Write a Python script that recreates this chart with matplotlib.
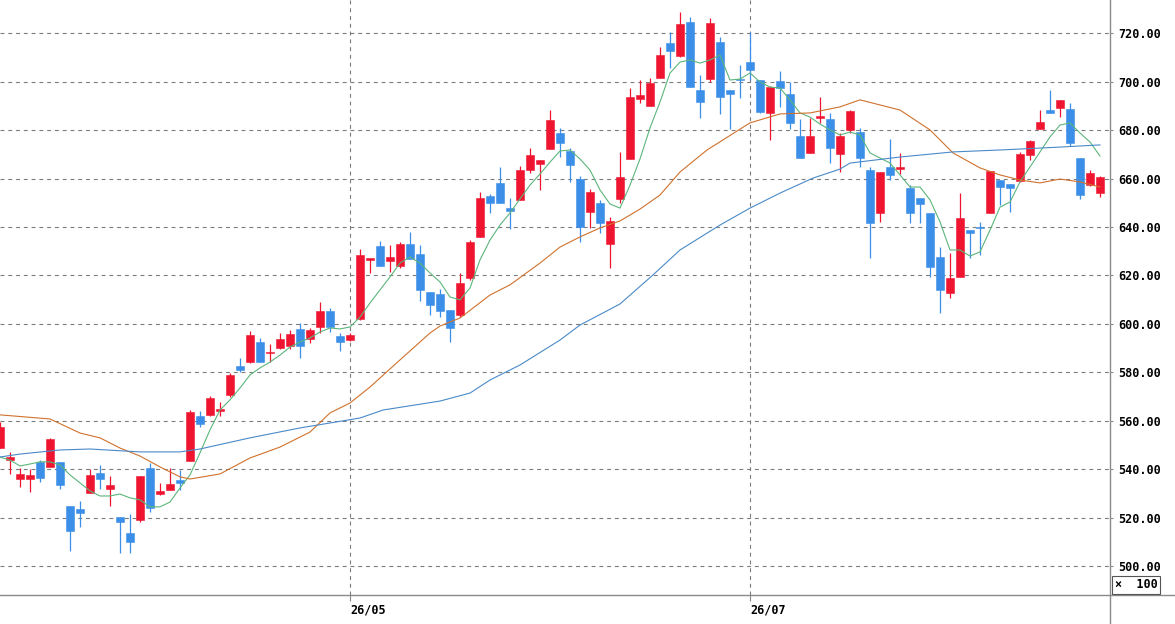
import matplotlib
matplotlib.use("Agg")
import matplotlib.pyplot as plt
from matplotlib.lines import Line2D

# daily candles (price) left to right
opens = [548.7, 543.8, 535.9, 535.9, 543.0, 540.9, 543.0, 524.8, 523.5, 530.1,
         538.4, 531.8, 520.2, 513.6, 519.0, 540.5, 529.7, 531.4, 535.5, 543.4,
         561.9, 562.4, 564.0, 570.6, 582.6, 584.2, 592.5, 588.0, 590.0, 590.8,
         597.9, 593.7, 598.7, 605.3, 595.0, 593.3, 602.0, 626.4, 632.2, 626.0,
         623.9, 633.0, 628.8, 613.2, 612.3, 605.7, 603.7, 618.9, 635.9, 652.8,
         658.2, 647.8, 651.2, 663.5, 666.0, 672.2, 678.8, 671.4, 659.8, 646.2,
         649.9, 633.0, 651.6, 668.1, 692.9, 690.0, 701.5, 716.0, 710.6, 724.7,
         696.6, 701.1, 716.4, 696.6, 701.1, 708.1, 700.7, 687.1, 700.3, 694.9,
         677.6, 670.6, 685.0, 684.6, 670.2, 680.1, 679.3, 663.5, 645.8, 664.8,
         664.0, 656.1, 652.0, 645.8, 627.6, 612.7, 619.4, 638.8, 640.0, 645.8,
         659.4, 657.8, 659.0, 669.7, 680.5, 688.3, 689.2, 688.7, 668.5, 657.3,
         654.0]
highs = [559.5, 547.1, 540.5, 540.1, 543.8, 552.8, 543.0, 524.8, 526.8, 540.1,
         541.7, 537.2, 520.2, 521.5, 537.2, 542.5, 534.3, 540.5, 539.6, 564.4,
         564.0, 570.2, 567.7, 579.7, 585.9, 597.0, 594.1, 591.7, 596.2, 597.5,
         600.4, 598.3, 609.0, 606.5, 596.2, 596.2, 630.9, 627.2, 634.2, 632.6,
         633.8, 637.9, 632.6, 613.2, 614.4, 605.7, 621.0, 634.6, 654.5, 653.6,
         664.8, 652.0, 665.2, 672.6, 667.7, 688.3, 680.9, 672.6, 661.1, 655.7,
         651.2, 644.1, 671.0, 697.4, 700.7, 701.5, 714.3, 720.5, 728.8, 726.7,
         702.8, 726.3, 718.5, 696.6, 706.9, 720.5, 700.7, 698.2, 704.4, 699.9,
         684.6, 685.0, 693.7, 687.1, 678.8, 688.3, 680.9, 664.8, 662.7, 676.3,
         670.6, 657.3, 652.0, 645.8, 631.7, 629.3, 654.0, 638.8, 642.1, 663.1,
         659.4, 657.8, 671.0, 675.9, 688.3, 696.6, 692.5, 691.2, 668.5, 663.5,
         661.1]
lows = [548.7, 538.0, 532.6, 530.6, 534.6, 540.9, 531.8, 506.2, 516.1, 530.1,
        531.8, 524.8, 505.4, 505.4, 518.2, 522.3, 529.3, 531.4, 531.4, 543.4,
        557.4, 561.9, 561.9, 569.8, 580.1, 583.8, 584.2, 584.2, 589.6, 589.6,
        585.9, 592.1, 596.2, 596.6, 588.8, 592.9, 601.6, 621.0, 623.9, 621.4,
        623.1, 626.8, 609.4, 603.7, 602.8, 592.5, 602.8, 618.1, 635.9, 645.8,
        649.9, 639.2, 651.2, 662.3, 655.3, 672.2, 668.9, 658.6, 633.8, 639.6,
        637.5, 623.1, 649.9, 668.1, 691.2, 690.0, 701.5, 705.7, 710.2, 697.8,
        685.0, 699.9, 686.7, 680.5, 693.3, 700.7, 687.1, 675.9, 689.6, 680.5,
        668.5, 670.6, 682.9, 666.4, 662.7, 678.8, 664.8, 627.2, 642.1, 659.4,
        661.9, 641.6, 641.6, 619.4, 604.5, 610.7, 619.4, 627.2, 628.4, 645.8,
        649.1, 646.2, 658.6, 667.7, 680.5, 687.1, 685.4, 673.5, 651.6, 656.9,
        652.4]
closes = [557.4, 545.0, 538.0, 537.6, 536.3, 552.4, 533.4, 514.4, 521.9, 537.6,
          535.9, 533.4, 518.2, 509.9, 537.2, 523.9, 531.0, 533.9, 534.3, 563.6,
          558.6, 569.4, 564.8, 578.9, 580.9, 595.4, 584.2, 588.4, 593.7, 595.8,
          590.8, 597.5, 605.3, 598.7, 592.5, 595.4, 628.4, 627.2, 623.9, 627.6,
          633.0, 626.8, 614.0, 607.8, 605.3, 598.3, 616.9, 633.8, 652.0, 649.9,
          649.9, 646.6, 663.5, 669.7, 667.7, 684.2, 674.7, 665.6, 640.0, 654.5,
          641.6, 642.5, 660.6, 693.7, 694.5, 699.5, 711.0, 712.7, 723.8, 697.8,
          691.6, 724.2, 693.7, 694.9, 700.7, 704.8, 687.5, 697.8, 697.4, 682.9,
          668.5, 677.6, 685.8, 672.6, 677.6, 687.9, 668.5, 641.6, 662.7, 661.5,
          664.8, 645.8, 649.5, 623.5, 614.0, 618.9, 643.7, 637.5, 639.6, 663.1,
          656.5, 656.1, 670.2, 675.5, 683.4, 687.1, 692.5, 674.7, 653.2, 662.3,
          660.6]

# moving averages as drawn (short / mid / long)
ma_short = [545.0, 543.7, 541.3, 542.1, 543.0, 543.0, 541.7, 537.6, 534.3, 531.0,
            528.9, 528.9, 529.7, 528.1, 527.3, 524.4, 524.4, 526.4, 532.2, 537.6,
            546.7, 556.2, 564.4, 568.6, 573.5, 578.9, 581.8, 584.2, 587.1, 590.4,
            592.5, 594.2, 596.6, 598.3, 597.9, 598.7, 602.8, 608.6, 614.0, 619.4,
            625.1, 627.6, 625.1, 621.0, 617.3, 611.1, 609.9, 614.8, 626.4, 634.6,
            640.8, 645.8, 651.6, 657.3, 661.9, 666.8, 671.4, 671.8, 668.1, 663.5,
            655.3, 649.5, 647.8, 657.3, 668.1, 680.9, 691.6, 703.6, 708.1, 709.0,
            707.7, 709.0, 711.0, 700.7, 701.1, 703.6, 699.9, 697.8, 697.4, 692.5,
            687.1, 685.4, 682.5, 680.1, 678.0, 679.2, 678.0, 670.6, 668.5, 666.4,
            661.5, 656.5, 656.5, 651.2, 642.1, 630.5, 630.5, 628.0, 629.7, 638.7,
            648.2, 650.3, 658.6, 664.8, 671.0, 677.2, 682.1, 683.0, 678.8, 675.1,
            669.3]
ma_mid_x = [0, 5, 8, 10, 12, 14, 16, 18, 19, 22, 25, 28, 31, 33, 35, 37, 40, 43, 44,
            46, 49, 51, 54, 56, 58, 60, 62, 64, 66, 68, 70.7, 75, 78, 81, 84, 86, 90,
            93, 95.3, 98, 100, 102, 104, 106, 108, 110]
ma_mid = [562.4, 560.7, 554.9, 552.9, 548.7, 545.4, 540.9, 536.8, 535.9, 538.0,
          544.6, 549.1, 555.3, 563.2, 567.3, 573.9, 585.1, 596.2, 599.1, 602.4,
          611.9, 616.1, 625.1, 631.7, 635.9, 639.6, 642.5, 647.4, 653.2, 662.7,
          671.8, 683.0, 686.7, 687.1, 689.6, 692.5, 688.3, 680.1, 670.6, 664.4,
          661.5, 659.4, 658.2, 659.8, 658.6, 656.5]
ma_long_x = [0, 2, 6, 9, 14, 18, 20, 25, 30, 36, 38.3, 44, 47, 49, 52, 56, 58, 62,
             65.3, 68, 72, 75, 78, 81.3, 84, 85, 90, 95.3, 100, 106, 110]
ma_long = [545.0, 546.2, 547.9, 548.3, 547.1, 547.1, 548.3, 552.9, 557.0, 561.1,
           564.4, 568.1, 571.4, 576.8, 583.0, 593.3, 599.5, 608.2, 620.2, 630.5,
           640.8, 647.8, 654.0, 660.2, 663.9, 666.4, 668.9, 671.0, 671.8, 673.0,
           673.9]

y_ticks = [500, 520, 540, 560, 580, 600, 620, 640, 660, 680, 700, 720]
x_ticks = [35, 75]
x_tick_labels = ["26/05", "26/07"]

UP_COLOR = "#ef1530"
DOWN_COLOR = "#3b8fe8"
AXIS_GRAY = "#8a8a8a"
LABEL_FONT = dict(family="DejaVu Sans Mono", weight="bold", size=8.5)

fig = plt.figure(figsize=(11.75, 6.24), dpi=100)
fig.patch.set_facecolor("white")
ax = fig.add_axes([0, 29 / 624, 1110 / 1175, 595 / 624])

# candles: wick first, body on top
for i in range(len(opens)):
    o, h, l, c = opens[i], highs[i], lows[i], closes[i]
    col = UP_COLOR if c >= o else DOWN_COLOR
    ax.vlines(i, l, h, color=col, lw=0.9, zorder=2)
    body = max(abs(c - o), 0.35)
    ax.bar(i, body, bottom=min(o, c), width=0.78, color=col, edgecolor=col,
           linewidth=0.4, zorder=3)

# moving averages
ax.plot(range(len(ma_short)), ma_short, color="#5cb57a", lw=0.8, zorder=4)
ax.plot(ma_mid_x, ma_mid, color="#d0712c", lw=0.8, zorder=4)
ax.plot(ma_long_x, ma_long, color="#4a8ac8", lw=0.8, zorder=4)

ax.set_xlim(0, 111)
ax.set_ylim(488.0, 733.75)

for s in ax.spines.values():
    s.set_visible(False)

ax.yaxis.tick_right()
ax.set_yticks(y_ticks)
ax.set_yticklabels([f"{v:.2f}" for v in y_ticks], fontdict=LABEL_FONT)
ax.tick_params(axis="y", direction="out", length=2.5, width=0.8, pad=3.5,
               color=AXIS_GRAY, labelcolor="black")

ax.set_xticks(x_ticks)
ax.set_xticklabels(x_tick_labels, fontdict=LABEL_FONT, ha="left")
ax.tick_params(axis="x", direction="out", length=4, width=0.8, pad=2,
               color=AXIS_GRAY, labelcolor="black")

ax.grid(True, linestyle=(0, (3.5, 3.5)), color="#7c7c7c", lw=0.8, zorder=1)
ax.set_axisbelow(True)

# frame lines that run across the whole picture
fig.add_artist(Line2D([1110 / 1175, 1110 / 1175], [0, 1], transform=fig.transFigure,
                      color=AXIS_GRAY, lw=1.0))
fig.add_artist(Line2D([0, 1], [29 / 624, 29 / 624], transform=fig.transFigure,
                      color=AXIS_GRAY, lw=1.0))

# unit box under the price scale
fig.text(1136 / 1175, 1 - 585 / 624, "\u00d7  100", ha="center", va="center",
         fontfamily="DejaVu Sans Mono", fontweight="bold", fontsize=8.5,
         bbox=dict(boxstyle="square,pad=0.2", fc="white", ec="#555555", lw=0.8))

fig.savefig("out.png", dpi=100, facecolor="white")
